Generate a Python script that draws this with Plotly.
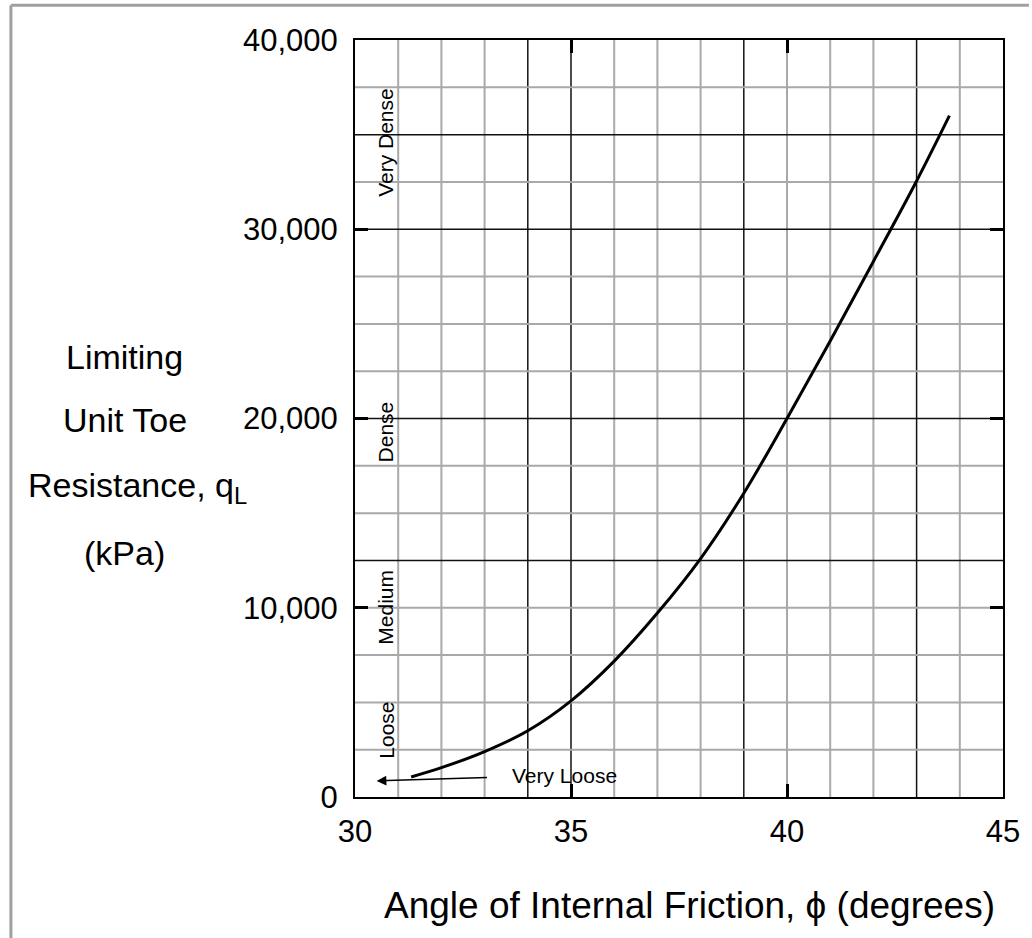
import plotly.graph_objects as go

# Limiting unit toe resistance vs. angle of internal friction
phi_deg = [31.3, 32, 33, 34, 35, 36, 37, 38, 39, 40, 41, 42, 43, 43.76]
q_limit_kpa = [1060, 1550, 2400, 3500, 5080, 7180, 9720, 12600, 16050,
               20000, 24100, 28300, 32550, 36000]

x_ticks = [30, 35, 40, 45]
y_ticks = [0, 10000, 20000, 30000, 40000]
y_tick_text = ["0", "10,000", "20,000", "30,000", "40,000"]

density_labels = ["Very Dense", "Dense", "Medium", "Loose"]
density_label_y = [34600, 19300, 10040, 3540]

grid_x = list(range(31, 45))
grid_y = list(range(2500, 40000, 2500))
dark_grid_x = [34, 35, 39, 43]
dark_grid_y = [12500, 20000, 30000, 35000]

FONT = "Liberation Sans, Arial, Helvetica, sans-serif"

fig = go.Figure()

fig.add_trace(go.Scatter(
    x=phi_deg, y=q_limit_kpa, mode="lines",
    line=dict(color="black", width=3, shape="spline", smoothing=1.0),
    hoverinfo="skip", showlegend=False,
))

shapes = []
# grid lines: a mix of crisp dark lines and softer grey lines
for gx in grid_x:
    dark = gx in dark_grid_x
    shapes.append(dict(type="line", xref="x", yref="y", x0=gx, x1=gx, y0=0, y1=40000,
                       line=dict(color="#111111" if dark else "#a9a9a9", width=1.5 if dark else 2),
                       layer="below"))
for gy in grid_y:
    dark = gy in dark_grid_y
    shapes.append(dict(type="line", xref="x", yref="y", x0=30, x1=45, y0=gy, y1=gy,
                       line=dict(color="#111111" if dark else "#a9a9a9", width=1.5 if dark else 2),
                       layer="below"))

# page frame along the top and left edges
shapes.append(dict(type="line", xref="paper", yref="paper", x0=-0.531, x1=1.04, y0=1.046, y1=1.046,
                   line=dict(color="#a0a0a0", width=3)))
shapes.append(dict(type="line", xref="paper", yref="paper", x0=-0.531, x1=-0.531, y0=1.046, y1=-0.19,
                   line=dict(color="#a0a0a0", width=3)))

annotations = []
for label, ly in zip(density_labels, density_label_y):
    annotations.append(dict(x=30.71, y=ly, xref="x", yref="y", text=label, showarrow=False,
                            textangle=-90, font=dict(family=FONT, size=21, color="black")))

# "Very Loose" label with its pointer
annotations.append(dict(x=30.5, y=850, xref="x", yref="y", ax=34.86, ay=1160,
                        axref="x", ayref="y", text="Very Loose", showarrow=True,
                        startstandoff=24, arrowhead=2, arrowsize=1.3, arrowwidth=1.5,
                        arrowcolor="black",
                        font=dict(family=FONT, size=21, color="black")))

# y-axis title lines
y_title_lines = ["Limiting", "Unit Toe", "Resistance, q<sub>L</sub>", "(kPa)"]
y_title_x = [-0.3557, -0.3557, -0.336, -0.3557]
y_title_y = [0.581, 0.498, 0.4095, 0.322]
for t, tx, ty in zip(y_title_lines, y_title_x, y_title_y):
    annotations.append(dict(x=tx, y=ty, xref="paper", yref="paper", text=t, showarrow=False,
                            xanchor="center", yanchor="middle",
                            font=dict(family=FONT, size=34, color="black")))

annotations.append(dict(x=0.516, y=-0.1427, xref="paper", yref="paper",
                        text="Angle of Internal Friction, \u03d5 (degrees)", showarrow=False,
                        xanchor="center", yanchor="middle",
                        font=dict(family=FONT, size=37, color="black")))

axis_common = dict(
    showgrid=False, zeroline=False, showline=True, linecolor="black", linewidth=2,
    mirror="allticks", ticks="inside", ticklen=13, tickwidth=3, tickcolor="black",
    tickfont=dict(family=FONT, size=31, color="black"),
)

fig.update_xaxes(range=[30, 45], tickvals=x_ticks, ticklabelstandoff=6, **axis_common)
fig.update_yaxes(range=[0, 40000], tickvals=y_ticks, ticktext=y_tick_text,
                 ticklabelstandoff=9, **axis_common)

fig.update_layout(
    width=1032, height=938,
    margin=dict(l=355, r=22, t=40, b=141),
    paper_bgcolor="white", plot_bgcolor="white",
    shapes=shapes, annotations=annotations,
    showlegend=False,
)

fig.write_html("out.html")
